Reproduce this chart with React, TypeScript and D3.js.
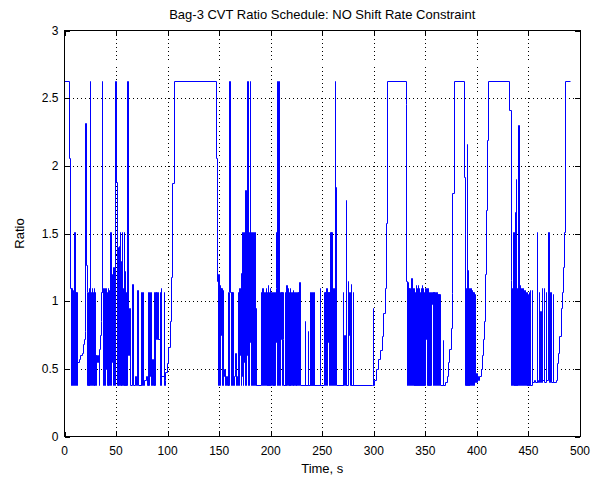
import React from 'react';
import * as d3 from 'd3';

const titleText = 'Bag-3 CVT Ratio Schedule: NO Shift Rate Constraint';
const xLabelText = 'Time, s';
const yLabelText = 'Ratio';
const xTicks = [0, 50, 100, 150, 200, 250, 300, 350, 400, 450, 500];
const yTicks = [0, 0.5, 1, 1.5, 2, 2.5, 3];

// [time s, ratio]
const ratioEp1: [number, number][] = [
  [0, 2.63], [4.5, 2.06], [6, 1.1], [6.5, 0.38], [7, 1.1], [7.5, 0.38], [8, 1.08], [8.5, 0.38], [9, 1.07], [9.5, 0.38], [10, 1.51], [10.5, 0.38], [11, 1.07], [11.5, 0.38], [12, 1.07], [12.5, 0.38],
  [13, 0.55], [14.5, 0.57], [15.5, 0.6], [17, 0.62], [18, 0.68], [19, 0.72], [20, 0.78], [20.8, 2.32], [21.5, 1.27], [22, 1.07],
  [22.5, 0.38], [23, 1.07], [23.5, 0.38], [24, 1.1], [24.5, 0.38], [25.2, 2.63], [25.7, 1.07], [26.2, 0.38], [26.7, 1.1], [27.2, 0.5], [27.7, 1.07], [28.2, 0.38], [28.7, 1.1], [29.2, 0.38], [29.7, 1.07], [30.2, 0.6], [30.7, 0.38], [31.2, 0.6], [32, 0.55], [33, 0.6], [33.7, 0.38], [34.2, 0.65], [35, 0.75], [35.7, 0.85], [36.2, 1.07], [36.7, 2.63], [37.2, 1.07], [37.7, 0.38],
  [38.2, 1.1], [38.7, 0.38], [39.2, 1.08], [39.7, 0.38], [40.2, 1.1], [40.7, 0.5], [41.2, 1.07], [41.7, 0.38], [42.2, 1.1], [42.7, 0.38], [43.2, 1.08], [43.7, 0.55], [44.2, 1.07], [44.7, 0.38], [45, 1.51], [45.5, 0.38], [46, 1.07], [46.5, 0.55], [47, 1.2], [47.5, 0.38], [48, 1.25], [48.5, 0.38],
  [49, 2.63], [50, 1.88], [51.5, 0.38], [52, 1.4], [52.5, 0.38], [53, 1.41], [53.5, 0.5], [54, 1.51], [54.5, 0.38], [55, 1.3], [55.5, 0.38], [56, 1.51], [56.5, 0.6], [57, 1.1], [57.5, 0.38], [58, 1.51], [58.5, 0.38], [59, 1.22], [59.5, 0.38], [60, 1.07], [60.5, 0.38],
  [61, 2.63], [61.7, 1.5], [62.5, 0.6], [63.3, 0.95], [64.2, 0.38], [65.8, 1.13], [66.8, 0.38], [68.5, 0.45], [69.5, 0.38], [71, 1.08], [71.5, 0.38], [74.3, 1.07], [74.8, 0.38], [75.3, 1.07], [75.8, 0.42], [76.3, 1.07], [76.8, 0.38], [78, 0.42], [79.5, 0.45], [80.5, 0.38],
  [81.4, 1.07], [81.9, 0.38], [82.4, 1.07], [82.9, 0.45], [83.5, 1.07], [84, 0.38], [85, 0.57], [86.3, 0.38], [87.2, 1.07], [87.7, 0.38], [88.2, 1.07], [88.8, 0.72], [89.5, 1.07], [90, 0.72], [91, 1.07], [91.5, 0.72], [92.7, 1.07], [93.2, 0.38], [93.7, 1.1], [94.2, 0.45], [96.6, 1.07], [97.1, 0.38],
  [97.6, 0.42], [98.2, 0.48], [99.8, 0.54], [100.8, 0.66], [102.4, 0.85], [103.4, 1.18], [104.7, 1.87], [106.3, 2.63],
];

const ratioEp2: [number, number][] = [
  [147, 2.06], [148.4, 1.15], [148.9, 0.38], [149.4, 1.2], [149.9, 0.38], [150.4, 1.12], [150.9, 0.38], [151.4, 1.1], [151.9, 0.75], [152.4, 1.1], [152.9, 0.38], [153.4, 1.08], [153.9, 0.38], [154.4, 0.45], [155.5, 0.5], [156.5, 0.38], [157.5, 0.45], [158.5, 0.38],
  [159, 1.07], [159.5, 0.38], [160, 1.07], [160.5, 2.63], [161, 1.07], [161.5, 0.38], [162, 1.07], [162.5, 0.38], [163, 1.07], [163.5, 0.38], [164.5, 0.45], [165.5, 0.5], [166, 0.62], [166.5, 0.38], [167.5, 0.45], [168.3, 0.38],
  [168.8, 1.07], [169.3, 0.38], [169.8, 1.1], [170.3, 0.6], [170.8, 1.07], [171.3, 0.38], [171.8, 1.21], [172.3, 0.45], [172.8, 1.51], [173.3, 0.38], [173.8, 1.3], [174.3, 0.55], [174.8, 1.51], [175.3, 0.38], [175.8, 1.82], [176.3, 0.38], [176.8, 1.51], [177.3, 0.6], [177.6, 2.63], [178.1, 0.38], [178.6, 1.51], [179.1, 0.38], [179.6, 1.4], [180.1, 2.63], [180.6, 0.7], [181.1, 1.51], [181.6, 0.38], [182.1, 1.51], [182.6, 0.7], [183.1, 1.51], [183.6, 0.38], [184.1, 1.51], [184.6, 0.5], [185.1, 1.51], [185.6, 0.38], [186.1, 0.95], [186.6, 0.38],
  [191.5, 1.07], [192, 0.38], [192.5, 1.1], [193, 0.38], [193.5, 1.07], [194, 0.38], [194.5, 1.07], [195, 0.75], [195.5, 1.1], [196, 0.38], [196.5, 1.07], [197, 0.38], [197.5, 1.12], [198, 0.38], [198.5, 1.07], [199, 0.38], [199.5, 1.1], [200, 0.38], [200.5, 1.07], [201, 0.72], [201.5, 1.07], [202, 0.38], [202.5, 1.07], [203, 0.38], [203.5, 1.07], [204, 0.38], [204.5, 1.07], [205, 0.7], [205.5, 1.1],
  [206, 1.51], [206.5, 0.38], [207, 2.63], [207.5, 0.38], [208, 1.07], [208.5, 2.63], [209, 0.38], [209.5, 1.07], [210, 0.72], [210.5, 1.07], [211, 0.38], [211.5, 1.07], [212, 0.72], [212.5, 0.38],
  [214, 1.07], [214.5, 0.38], [215, 1.12], [215.5, 0.38], [216, 1.12], [216.5, 0.72], [217, 1.1], [217.5, 0.38], [218, 1.07], [218.5, 0.38], [219, 1.1], [219.5, 0.38], [220, 1.07], [220.5, 0.72], [221, 1.07], [221.5, 0.38], [222, 1.08], [222.5, 0.38], [223, 1.07], [223.5, 0.72], [224, 1.07], [224.5, 0.38], [225, 1.07], [225.5, 0.38], [226, 1.07], [226.5, 0.38], [227, 1.07], [227.5, 0.38], [228, 1.14], [228.5, 0.38],
  [233.3, 0.85], [233.8, 0.38], [236.5, 0.78], [237, 0.38], [238.3, 1.07], [238.8, 0.38], [239.3, 1.07], [239.8, 0.38], [240.3, 1.07], [240.8, 0.38], [241.3, 1.07], [241.8, 0.38], [242.3, 1.07], [242.8, 0.38], [248, 1.1], [248.5, 0.38],
  [252.2, 1.07], [252.7, 0.38], [253.2, 1.07], [253.7, 0.38], [254.2, 1.1], [254.7, 0.38], [255.2, 1.07], [255.7, 0.7], [256.2, 1.07], [256.7, 0.38], [257.2, 1.07], [257.7, 0.38], [258.2, 1.51], [258.7, 0.38], [259.2, 1.51], [259.7, 0.38], [260.2, 1.07], [260.7, 0.38], [261.2, 1.1], [261.7, 0.38], [262.4, 2.63], [263, 1.84], [264.2, 0.38],
  [270.5, 1.07], [271, 0.38], [272, 0.75], [272.5, 0.38], [273.5, 1.75], [274, 0.38], [275, 1.15], [275.5, 0.75], [276.5, 1.07], [277, 0.38], [278, 1.13], [278.5, 0.38], [280, 1.07], [280.5, 0.38],
];

const ratioEp3: [number, number][] = [
  [299, 0.38], [299.5, 0.95], [300, 0.38], [300.5, 0.42], [303, 0.5], [304.7, 0.57], [306.3, 0.64], [308, 0.74], [309.5, 0.91], [311.2, 1.1], [312.1, 1.58], [313.4, 2.63],
  [331.3, 2.46], [331.8, 1.15], [332.3, 0.38], [332.8, 1.14], [333.3, 0.38], [333.8, 1.1], [334.3, 0.38], [334.8, 1.1], [335.3, 0.38], [335.8, 1.08], [336.3, 0.38], [337, 1.17], [337.5, 0.38], [338, 1.1], [338.5, 0.38], [339, 1.1], [339.5, 0.38], [340, 1.07], [340.5, 0.38], [341, 1.12], [341.5, 0.38], [342, 1.1], [342.5, 0.38], [343, 1.12], [343.5, 0.38], [344, 1.1], [344.5, 0.38], [345, 1.07], [345.5, 0.38], [346, 1.1], [346.5, 0.38], [347, 1.12], [347.5, 0.38], [348, 1.1], [348.5, 0.38], [349, 1.07], [349.5, 0.38], [350, 1.1], [350.5, 0.72],
  [351.6, 1.1], [352.1, 0.38], [352.6, 1.1], [353.1, 0.38], [353.6, 1.07], [354.1, 0.38], [354.6, 1.07], [355.1, 0.38], [355.6, 1.07], [356.1, 0.98], [357.2, 1.07], [357.7, 0.38], [358.2, 1.07], [358.7, 0.38], [359.2, 1.07], [359.7, 0.38], [360.2, 1.05], [360.7, 0.38], [361.2, 1.07], [361.7, 0.38], [362.2, 1.05], [362.7, 0.38], [363.2, 1.05], [363.7, 0.38], [364.2, 1.05], [364.7, 0.38],
  [367.2, 0.71], [367.7, 0.38], [369.4, 0.4], [371, 0.45], [372.6, 0.55], [373.6, 0.65], [375, 0.8], [376, 1.06], [376.5, 1.8], [378.4, 2.63],
  [387.9, 1.92], [389.3, 0.38], [389.8, 1.1], [390.3, 0.38], [390.8, 2.16], [391.3, 0.38], [391.8, 1.23], [392.3, 0.38], [392.8, 1.1], [393.3, 0.38], [393.8, 1.1], [394.3, 0.38], [394.8, 1.08], [395.3, 0.38], [395.8, 1.07], [396.3, 0.38], [396.8, 1.07], [397.3, 0.38], [397.8, 1.05], [398.3, 0.4],
  [399.5, 0.47], [400.3, 0.4], [401, 0.45], [402, 0.42], [403, 0.45], [404.5, 0.5], [405.5, 0.6], [406.5, 0.72], [407.3, 0.85], [408, 1.0], [408.7, 1.2], [409.3, 1.67], [410, 2.19], [411, 2.63],
];

const ratioEp4: [number, number][] = [
  [431.9, 2.41], [433.2, 1.16], [433.7, 0.38], [434.2, 1.1], [434.7, 0.74], [435.2, 1.51], [435.7, 0.38], [436.2, 1.51], [436.7, 0.38], [437.4, 1.66], [437.9, 0.38], [438.3, 1.9], [438.8, 0.38], [439.3, 1.1], [439.8, 0.38], [440.6, 2.3], [441.1, 0.38], [441.6, 1.12], [442.1, 0.38], [442.6, 1.1], [443.1, 0.38], [443.6, 1.08], [444.1, 0.38], [444.6, 1.1], [445.1, 0.38], [445.6, 1.07], [446.1, 0.38], [446.6, 1.08], [447.1, 0.38], [447.6, 1.07], [448.1, 0.38], [448.6, 1.07], [449.1, 0.38], [449.6, 1.05], [450.1, 0.38], [450.6, 1.07], [451.1, 0.38], [451.6, 1.08], [452.1, 0.38],
  [453.6, 1.08], [454.1, 0.4], [455.5, 0.42], [456.5, 0.4], [458.5, 1.51], [459, 0.4], [460, 0.42], [460.5, 1.07], [461, 0.4], [461.8, 0.93], [462.8, 0.4], [463.3, 1.1], [463.8, 0.42], [465.3, 1.1], [465.8, 0.4], [467.3, 1.07], [467.8, 0.42], [469.5, 1.51], [470, 0.4], [471, 1.07], [471.5, 0.42], [472.3, 1.07], [472.8, 0.4], [474, 1.05], [474.5, 0.4],
  [477.2, 0.42], [478.5, 0.54], [479.4, 0.62], [480.4, 0.74], [481.7, 0.95], [482.7, 1.07], [483.7, 1.25], [485, 1.51], [486, 2.63], [490.8, 2.63],
];

const FONT = '"Liberation Sans", Arial, Helvetica, sans-serif';

export default function App() {
  const W = 601;
  const H = 482;
  const L = 64.5, R = 580, T = 30.5, B = 436.5;
  const x = d3.scaleLinear().domain([0, 500]).range([L, R]);
  const y = d3.scaleLinear().domain([0, 3]).range([B, T]);
  const data = [...ratioEp1, ...ratioEp2, ...ratioEp3, ...ratioEp4];
  // snap to pixel centres so the 1px trace renders crisp like the original
  const line = d3
    .line<[number, number]>()
    .x((d) => Math.floor(x(d[0])) + 0.5)
    .y((d) => Math.round(y(d[1])) + 0.5)
    .curve(d3.curveStepAfter);
  const tickLen = 5;
  const cx = (L + R) / 2;
  return (
    <svg
      width={W}
      height={H}
      style={{ position: 'absolute', left: 0, top: 0, background: '#fff' }}
      fontFamily={FONT}
    >
      <rect x={0} y={0} width={W} height={H} fill="#fff" />
      {/* grid */}
      {xTicks.slice(1, -1).map((t) => (
        <line key={'gx' + t} x1={Math.round(x(t)) + 0.5} x2={Math.round(x(t)) + 0.5} y1={T} y2={B} stroke="#000" strokeWidth={1} strokeDasharray="1 3" shapeRendering="crispEdges" />
      ))}
      {yTicks.slice(1, -1).map((t) => (
        <line key={'gy' + t} y1={Math.round(y(t)) + 0.5} y2={Math.round(y(t)) + 0.5} x1={L} x2={R} stroke="#000" strokeWidth={1} strokeDasharray="1 3" shapeRendering="crispEdges" />
      ))}
      {/* data */}
      <path d={line(data) || ''} fill="none" stroke="#0000ff" strokeWidth={1} />
      {/* box */}
      <rect x={L} y={T} width={R - L} height={B - T} fill="none" stroke="#000" strokeWidth={1} shapeRendering="crispEdges" />
      {/* ticks */}
      {xTicks.map((t) => (
        <g key={'tx' + t}>
          <line x1={Math.round(x(t)) + 0.5} x2={Math.round(x(t)) + 0.5} y1={B} y2={B - tickLen} stroke="#000" shapeRendering="crispEdges" />
          <line x1={Math.round(x(t)) + 0.5} x2={Math.round(x(t)) + 0.5} y1={T} y2={T + tickLen} stroke="#000" shapeRendering="crispEdges" />
          <text x={x(t)} y={B + 18} textAnchor="middle" fontSize={12} fill="#000">
            {t}
          </text>
        </g>
      ))}
      {yTicks.map((t) => (
        <g key={'ty' + t}>
          <line x1={L} x2={L + tickLen} y1={Math.round(y(t)) + 0.5} y2={Math.round(y(t)) + 0.5} stroke="#000" shapeRendering="crispEdges" />
          <line x1={R} x2={R - tickLen} y1={Math.round(y(t)) + 0.5} y2={Math.round(y(t)) + 0.5} stroke="#000" shapeRendering="crispEdges" />
          <text x={L - 6} y={y(t) + 4} textAnchor="end" fontSize={12} fill="#000">
            {t}
          </text>
        </g>
      ))}
      <text x={cx} y={19} textAnchor="middle" fontSize={13} fill="#000">
        {titleText}
      </text>
      <text x={cx} y={473} textAnchor="middle" fontSize={13} fill="#000">
        {xLabelText}
      </text>
      <text transform={`translate(24, ${(T + B) / 2}) rotate(-90)`} textAnchor="middle" fontSize={13} fill="#000">
        {yLabelText}
      </text>
    </svg>
  );
}
